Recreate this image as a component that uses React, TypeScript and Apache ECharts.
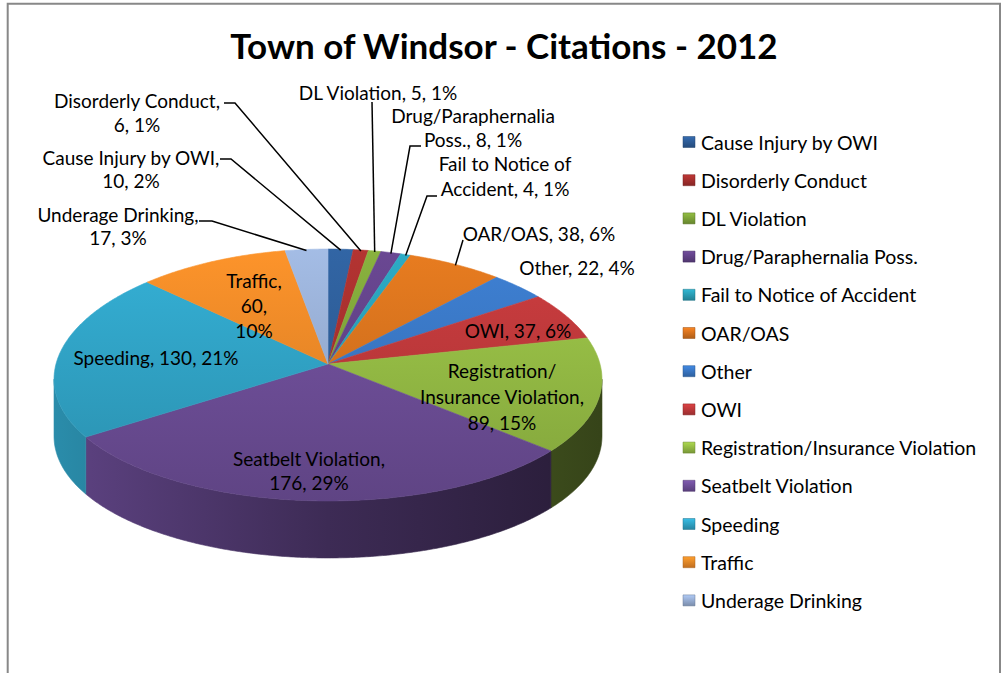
import React, { useEffect, useRef } from "react";
import * as echarts from "echarts";

// ---------- data ----------
const categories = [
  "Cause Injury by OWI",
  "Disorderly Conduct",
  "DL Violation",
  "Drug/Paraphernalia Poss.",
  "Fail to Notice of Accident",
  "OAR/OAS",
  "Other",
  "OWI",
  "Registration/Insurance Violation",
  "Seatbelt Violation",
  "Speeding",
  "Traffic",
  "Underage Drinking",
];
const citations = [10, 6, 5, 8, 4, 38, 22, 37, 89, 176, 130, 60, 17];
const percents = [2, 1, 1, 1, 1, 6, 4, 6, 15, 29, 21, 10, 3];
const title = "Town of Windsor - Citations - 2012";

// ---------- style ----------
const colors = [
  "#2e5e9a", "#a8302e", "#80a63a", "#634389", "#2aa0b8", "#d9741e",
  "#3a78c6", "#c0393b", "#96bd45", "#6f4f9a", "#31a5c8", "#f08a28", "#99b0d6",
];
const FONT = "Lato, 'Open Sans', sans-serif";
const LABEL_SIZE = 19;
const LEGEND_SIZE = 19.5;

// label layout: x = centre, y = centre of first line, lh = line height
// mode: how value/percent are wrapped; split: chars of name on first line
type LabelLayout = {
  x: number; y: number; lh: number;
  mode: "line" | "name" | "each";
  split?: number;
  leader?: number[][];
};
const labelLayout: LabelLayout[] = [
  { x: 131, y: 157, lh: 23, mode: "name", leader: [[220, 159], [231, 159]] },
  { x: 137, y: 100, lh: 24, mode: "name", leader: [[224, 103], [235, 103]] },
  { x: 378, y: 92, lh: 24, mode: "line", leader: [[372, 102]] },
  { x: 473, y: 115, lh: 24, mode: "line", split: 18, leader: [[421, 146], [410, 146]] },
  { x: 505, y: 163, lh: 25, mode: "line", split: 17, leader: [[437, 196], [427, 196]] },
  { x: 539, y: 233, lh: 24, mode: "line", leader: [[463, 240]] },
  { x: 577, y: 267, lh: 24, mode: "line" },
  { x: 518, y: 330, lh: 24, mode: "line" },
  { x: 502, y: 370, lh: 26, mode: "name", split: 13 },
  { x: 309, y: 458, lh: 24, mode: "name" },
  { x: 156, y: 357, lh: 24, mode: "line" },
  { x: 254, y: 280, lh: 25, mode: "each" },
  { x: 118, y: 214, lh: 23, mode: "name", leader: [[199, 221], [212, 221]] },
];

// pie geometry (perspective-projected disc)
const G = { cx: 328, cy: 364, rx: 272, ry: 125, kx: 0.12, ky: 0.0873, depth: 57 };

const total = citations.reduce((a, b) => a + b, 0);
const cumulative: number[] = [];
{
  let acc = 0;
  citations.forEach((v) => {
    cumulative.push(acc);
    acc += v;
  });
}

function rim(deg: number): number[] {
  const t = (deg * Math.PI) / 180;
  const s = Math.sin(t);
  const c = Math.cos(t);
  return [G.cx + (G.rx * s) / (1 + G.kx * c), G.cy - (G.ry * c) / (1 + G.ky * c)];
}

function shade(hex: string, f: number): string {
  const n = parseInt(hex.slice(1), 16);
  const r = Math.min(255, Math.round(((n >> 16) & 255) * f));
  const g = Math.min(255, Math.round(((n >> 8) & 255) * f));
  const b = Math.min(255, Math.round((n & 255) * f));
  return `rgb(${r},${g},${b})`;
}

function labelText(i: number): string {
  const L = labelLayout[i];
  const name = categories[i];
  const v = citations[i];
  const p = percents[i] + "%";
  let lines: string[];
  if (L.mode === "line") lines = [`${name}, ${v}, ${p}`];
  else if (L.mode === "name") lines = [`${name},`, `${v}, ${p}`];
  else lines = [`${name},`, `${v},`, p];
  if (L.split) {
    const first = name.slice(0, L.split).trim();
    const rest = lines[0].slice(L.split).trim();
    lines = [first, rest, ...lines.slice(1)];
  }
  return lines.join("\n");
}

const sideLo = (Math.acos(-G.kx) * 180) / Math.PI;
const sideHi = 360 - sideLo;

function buildOption(): any {
  const data = citations.map((v, i) => ({ value: v, name: categories[i] }));

  const shapeSeries = {
    type: "custom",
    coordinateSystem: "none",
    silent: true,
    data,
    renderItem: (params: any) => {
      const i = params.dataIndex;
      const a = (cumulative[i] / total) * 360;
      const b = ((cumulative[i] + citations[i]) / total) * 360;
      const steps = Math.max(2, Math.ceil((b - a) / 0.5));
      const top: number[][] = [[G.cx, G.cy]];
      for (let k = 0; k <= steps; k++) top.push(rim(a + ((b - a) * k) / steps));
      const topFill = new echarts.graphic.LinearGradient(
        0, G.cy - G.ry, 0, G.cy + G.ry * 1.1,
        [
          { offset: 0, color: shade(colors[i], 1.08) },
          { offset: 1, color: shade(colors[i], 0.86) },
        ],
        true
      );
      const children: any[] = [];
      const sa = Math.max(a, sideLo);
      const sb = Math.min(b, sideHi);
      if (sb > sa) {
        const n = Math.max(2, Math.ceil((sb - sa) / 0.5));
        const upper: number[][] = [];
        const lower: number[][] = [];
        for (let k = 0; k <= n; k++) {
          const p = rim(sa + ((sb - sa) * k) / n);
          upper.push(p);
          lower.push([p[0], p[1] + G.depth]);
        }
        const sideFill = new echarts.graphic.LinearGradient(
          G.cx - G.rx, 0, G.cx + G.rx, 0,
          [
            { offset: 0, color: shade(colors[i], 0.85) },
            { offset: 0.5, color: shade(colors[i], 0.55) },
            { offset: 1, color: shade(colors[i], 0.36) },
          ],
          true
        );
        children.push({
          type: "polygon",
          shape: { points: upper.concat(lower.reverse()) },
          style: { fill: sideFill, stroke: sideFill, lineWidth: 0.6 },
        });
      }
      children.push({
        type: "polygon",
        shape: { points: top },
        style: { fill: topFill, stroke: topFill, lineWidth: 0.6 },
      });
      return { type: "group", children };
    },
  };

  const labelSeries = {
    type: "custom",
    coordinateSystem: "none",
    silent: true,
    data,
    renderItem: (params: any) => {
      const i = params.dataIndex;
      const L = labelLayout[i];
      const children: any[] = [];
      if (L.leader) {
        const mid = ((cumulative[i] + citations[i] / 2) / total) * 360;
        const end = rim(mid);
        children.push({
          type: "polyline",
          shape: { points: [...L.leader, [end[0], end[1] + 1]] },
          style: { stroke: "#000", lineWidth: 1.5, fill: "none" },
        });
      }
      children.push({
        type: "text",
        style: {
          text: labelText(i),
          x: L.x,
          y: L.y - L.lh / 2,
          align: "center",
          textAlign: "center",
          verticalAlign: "top",
          textVerticalAlign: "top",
          lineHeight: L.lh,
          fontSize: LABEL_SIZE,
          fontFamily: FONT,
          fill: "#000",
        },
      });
      return { type: "group", children };
    },
  };

  const legend: any[] = categories.map((name, i) => {
    const y = 142 + 38.2 * i;
    return {
      type: "group",
      children: [
        {
          type: "rect",
          shape: { x: 683, y: y - 5.5, width: 12, height: 11 },
          style: {
            fill: new echarts.graphic.LinearGradient(0, 0, 0, 1, [
              { offset: 0, color: shade(colors[i], 1.15) },
              { offset: 1, color: shade(colors[i], 0.8) },
            ]),
            stroke: shade(colors[i], 0.7),
            lineWidth: 0.5,
          },
        },
        {
          type: "text",
          style: {
            text: name,
            x: 701,
            y,
            align: "left",
            textAlign: "left",
            verticalAlign: "middle",
            textVerticalAlign: "middle",
            fontSize: LEGEND_SIZE,
            fontFamily: FONT,
            fill: "#000",
          },
        },
      ],
    };
  });

  return {
    animation: false,
    backgroundColor: "#ffffff",
    graphic: [
      {
        type: "rect",
        shape: { x: 7.7, y: 3.7, width: 992.3, height: 720 },
        style: { fill: "none", stroke: "#888888", lineWidth: 2 },
        silent: true,
      },
      {
        type: "text",
        style: {
          text: title,
          x: 504,
          y: 45,
          align: "center",
          textAlign: "center",
          verticalAlign: "middle",
          textVerticalAlign: "middle",
          fontSize: 35,
          fontWeight: "bold",
          fontFamily: FONT,
          fill: "#000",
        },
      },
      ...legend,
    ],
    series: [shapeSeries, labelSeries],
  };
}

export default function App() {
  const ref = useRef<HTMLDivElement>(null);
  useEffect(() => {
    if (!ref.current) return;
    const chart = echarts.init(ref.current, undefined, { renderer: "svg" });
    chart.setOption(buildOption());
    return () => chart.dispose();
  }, []);
  return (
    <div
      ref={ref}
      style={{ position: "absolute", left: 0, top: 0, width: 1002, height: 673 }}
    />
  );
}
